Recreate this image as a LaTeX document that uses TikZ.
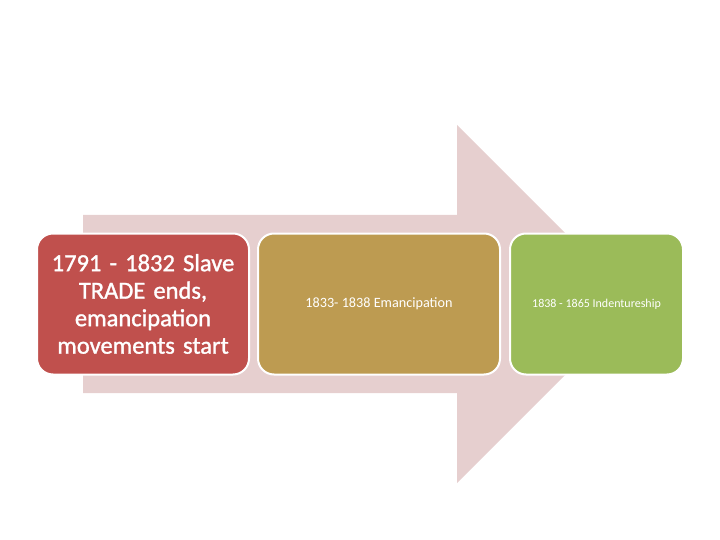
\documentclass[tikz,border=0pt]{standalone}
\usepackage{fontspec}
\setmainfont{Carlito}
\newfontfamily\heavyfont[FakeBold=1.3]{Carlito}
\usepackage{tikz}

\definecolor{arrowpink}{HTML}{E6CFCF}
\definecolor{boxred}{HTML}{C0504D}
\definecolor{boxgold}{HTML}{BD9B51}
\definecolor{boxgreen}{HTML}{9BBB59}

\begin{document}
\begin{tikzpicture}[x=1pt,y=-1pt]
        \tikzstyle{every node} = [rectangle, rounded corners=16pt, draw=white, line width=2pt, text=white, align=center, inner sep=0pt]
        \tikzstyle{stage} = [minimum height=141pt]
        \useasboundingbox (0,0) rectangle (720,540);
        % big background arrow
        \fill[arrowpink] (83,215) -- (457,215) -- (457,125) -- (636,304) -- (457,483) -- (457,393) -- (83,393) -- cycle;
        \node[stage, fill=boxred, minimum width=212pt, text width=212pt,
              font=\heavyfont\fontsize{24.5pt}{27.5pt}\selectfont] (t1) at (143,304)
            {1791 - 1832 Slave\\ TRADE ends,\\ emancipation\\ movements start};
        \node[stage, fill=boxgold, minimum width=242pt, font=\fontsize{14.2pt}{16pt}\selectfont] (t2) at (379,304)
            {1833- 1838 Emancipation};
        \node[stage, fill=boxgreen, minimum width=173pt, font=\fontsize{12pt}{14pt}\selectfont] (t3) at (596.5,304)
            {1838 - 1865 Indentureship};
    \end{tikzpicture}
\end{document}
